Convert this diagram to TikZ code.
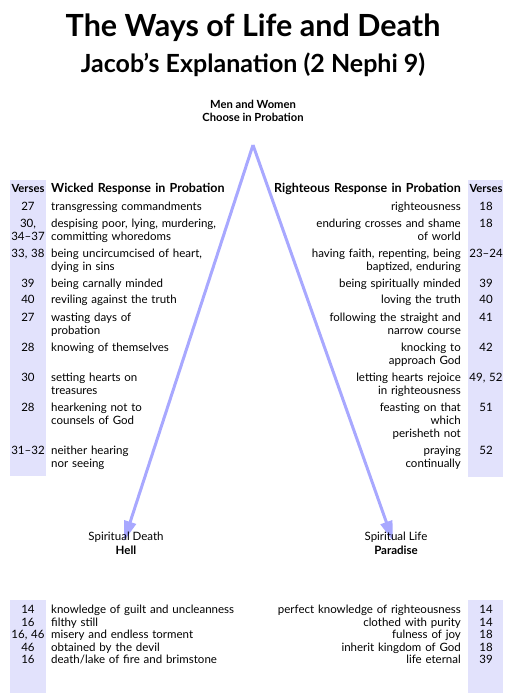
\documentclass[tikz,border=0pt]{standalone}
\usepackage{fontspec}
\setmainfont{Lato}
\usetikzlibrary{arrows.meta}
\definecolor{wayblue}{RGB}{168,168,255}
\definecolor{versefill}{RGB}{226,226,252}
\tikzset{
  every node/.style={inner sep=0pt,font=\fontsize{11.5}{13.3}\selectfont},
  verse/.style={anchor=base,align=center,text width=40pt},
  wicked/.style={anchor=base west,align=left,text width=210pt},
  righteous/.style={anchor=base east,align=right,text width=210pt},
  head/.style={font=\fontsize{12.5}{13.3}\selectfont\bfseries},
  versehead/.style={verse,font=\fontsize{11.2}{13.3}\selectfont\bfseries},
  way/.style={draw=wayblue,line width=3pt,-{Triangle[length=20pt,width=12pt]}},
  fate/.style={anchor=base,align=center}
}
\begin{document}
\begin{tikzpicture}[x=1pt,y=-1pt]
\useasboundingbox (0,0) rectangle (515,693);
\fill[versefill] (10,180) rectangle (46,476);
\fill[versefill] (468,180) rectangle (503,477);
\fill[versefill] (10,600) rectangle (46,693);
\fill[versefill] (468,600) rectangle (503,693);

\node[anchor=base,font=\fontsize{30.5}{36}\selectfont\bfseries] (title) at (253,37) {The Ways of Life and Death};
\node[anchor=base,font=\fontsize{25}{28}\selectfont\bfseries] (subtitle) at (253,72) {Jacob’s Explanation (2 Nephi 9)};
\node[fate,font=\fontsize{11.2}{13}\selectfont\bfseries] (choose) at (253,121) {Men and Women\\Choose in Probation};

\coordinate (apex) at (253,145);
\coordinate (deathtip) at (124,541);
\coordinate (lifetip) at (393,541);
\draw[way] (apex) -- (deathtip);
\draw[way] (apex) -- (lifetip);

\node[versehead] (vw) at (28,192) {Verses};
\node[wicked,head] (hw) at (51,192) {Wicked Response in Probation};
\node[righteous,head] (hr) at (461,192) {Righteous Response in Probation};
\node[versehead] (vr) at (486,192) {Verses};

\node[verse] (vw1) at (28,210) {27};
\node[wicked] (w1) at (51,210) {transgressing commandments};
\node[verse] (vw2) at (28,227) {30,\\34--37};
\node[wicked] (w2) at (51,227) {despising poor, lying, murdering,\\committing whoredoms};
\node[verse] (vw3) at (28,257) {33, 38};
\node[wicked] (w3) at (51,257) {being uncircumcised of heart,\\dying in sins};
\node[verse] (vw4) at (28,287) {39};
\node[wicked] (w4) at (51,287) {being carnally minded};
\node[verse] (vw5) at (28,303) {40};
\node[wicked] (w5) at (51,303) {reviling against the truth};
\node[verse] (vw6) at (28,321) {27};
\node[wicked] (w6) at (51,321) {wasting days of\\probation};
\node[verse] (vw7) at (28,351) {28};
\node[wicked] (w7) at (51,351) {knowing of themselves};
\node[verse] (vw8) at (28,381) {30};
\node[wicked] (w8) at (51,381) {setting hearts on\\treasures};
\node[verse] (vw9) at (28,411) {28};
\node[wicked] (w9) at (51,411) {hearkening not to\\counsels of God};
\node[verse] (vw10) at (28,454) {31--32};
\node[wicked] (w10) at (51,454) {neither hearing\\nor seeing};

\node[righteous] (r1) at (461,210) {righteousness};
\node[verse] (vr1) at (486,210) {18};
\node[righteous] (r2) at (461,227) {enduring crosses and shame\\of world};
\node[verse] (vr2) at (486,227) {18};
\node[righteous] (r3) at (461,257) {having faith, repenting, being\\baptized, enduring};
\node[verse] (vr3) at (486,257) {23--24};
\node[righteous] (r4) at (461,287) {being spiritually minded};
\node[verse] (vr4) at (486,287) {39};
\node[righteous] (r5) at (461,303) {loving the truth};
\node[verse] (vr5) at (486,303) {40};
\node[righteous] (r6) at (461,321) {following the straight and\\narrow course};
\node[verse] (vr6) at (486,321) {41};
\node[righteous] (r7) at (461,351) {knocking to\\approach God};
\node[verse] (vr7) at (486,351) {42};
\node[righteous] (r8) at (461,381) {letting hearts rejoice\\in righteousness};
\node[verse] (vr8) at (486,381) {49, 52};
\node[righteous] (r9) at (461,411) {feasting on that\\which\\perisheth not};
\node[verse] (vr9) at (486,411) {51};
\node[righteous] (r10) at (461,454) {praying\\continually};
\node[verse] (vr10) at (486,454) {52};

\node[fate] (death) at (126,554) {Spiritual Death\\\textbf{Hell}};
\node[fate] (life) at (396,554) {Spiritual Life\\\textbf{Paradise}};

\node[verse] (vh1) at (28,613) {14};
\node[wicked] (h1) at (51,613) {knowledge of guilt and uncleanness};
\node[verse] (vh2) at (28,626) {16};
\node[wicked] (h2) at (51,626) {filthy still};
\node[verse] (vh3) at (28,638) {16, 46};
\node[wicked] (h3) at (51,638) {misery and endless torment};
\node[verse] (vh4) at (28,651) {46};
\node[wicked] (h4) at (51,651) {obtained by the devil};
\node[verse] (vh5) at (28,663) {16};
\node[wicked] (h5) at (51,663) {death/lake of fire and brimstone};

\node[righteous] (p1) at (461,613) {perfect knowledge of righteousness};
\node[verse] (vp1) at (486,613) {14};
\node[righteous] (p2) at (461,626) {clothed with purity};
\node[verse] (vp2) at (486,626) {14};
\node[righteous] (p3) at (461,638) {fulness of joy};
\node[verse] (vp3) at (486,638) {18};
\node[righteous] (p4) at (461,651) {inherit kingdom of God};
\node[verse] (vp4) at (486,651) {18};
\node[righteous] (p5) at (461,663) {life eternal};
\node[verse] (vp5) at (486,663) {39};
\end{tikzpicture}
\end{document}
